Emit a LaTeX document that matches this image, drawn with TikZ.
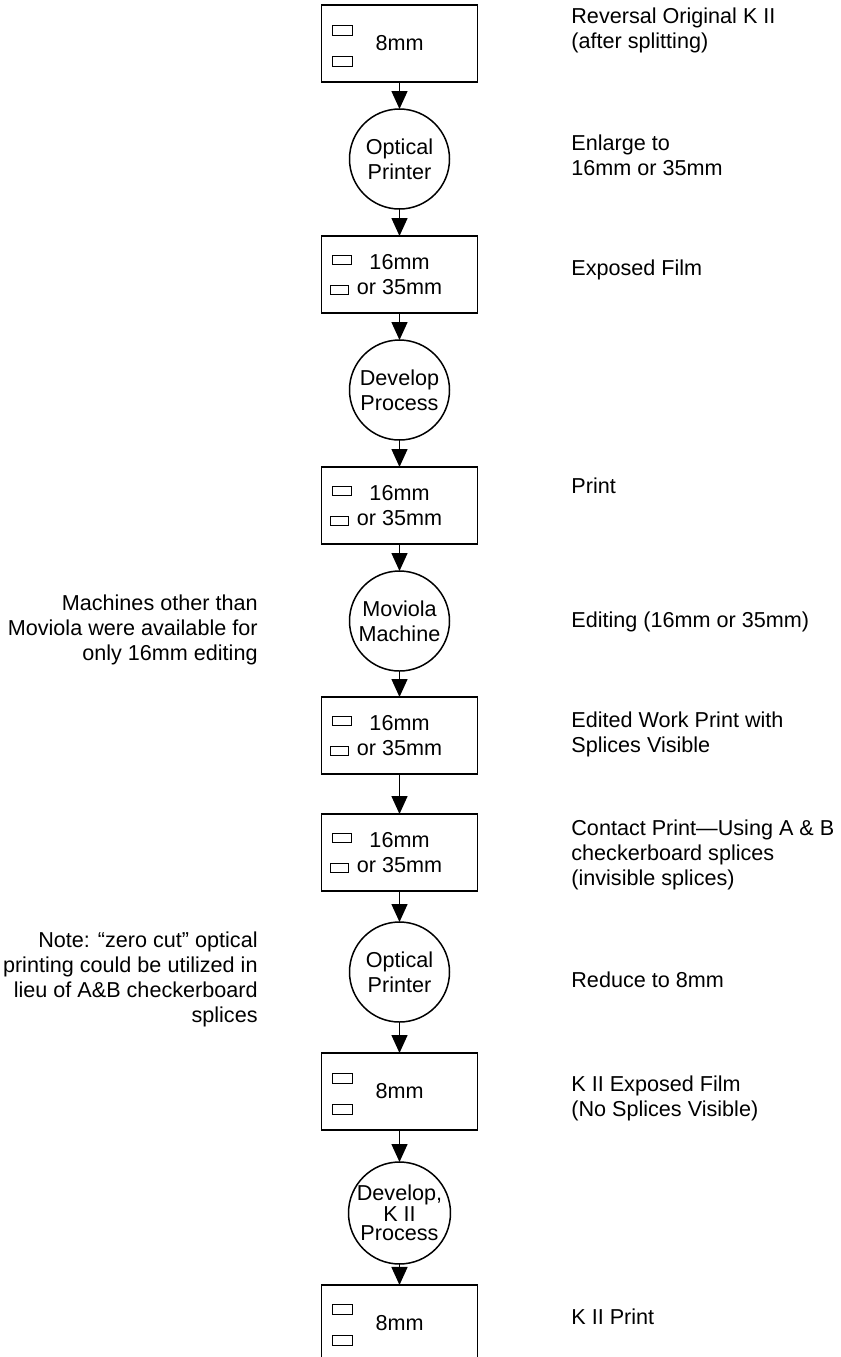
\documentclass[tikz,border=0pt]{standalone}
\usepackage{fontspec}
\setmainfont{Liberation Sans}
\usetikzlibrary{arrows.meta,positioning,calc}

\begin{document}
\begin{tikzpicture}[
    x=0.5pt, y=-0.5pt,
    font=\fontsize{10.8}{12.5}\selectfont,
    filmbox/.style={draw, line width=0.75pt, minimum width=78pt, minimum height=38.5pt, inner sep=0pt, outer sep=0pt, align=center},
    process/.style={draw, circle, line width=0.75pt, minimum size=50pt, inner sep=0pt, outer sep=0pt, align=center},
    hole/.style={draw, line width=0.5pt},
    remark/.style={anchor=west, align=left, inner sep=0pt},
    aside/.style={anchor=east, align=right, inner sep=0pt},
    arrow/.style={-{Triangle[length=9pt,width=8pt]}, line width=0.75pt}
  ]
    \useasboundingbox (0,0) rectangle (841,1357);
    % main chain
    \node[filmbox] (reel1) at (399.5,43.5) {8mm};
    \node[process, below=13.5pt of reel1] (optic1) {Optical\\Printer};
    \node[filmbox, below=13.5pt of optic1] (reel2) {16mm\\or 35mm};
    \node[process, below=13.5pt of reel2] (dev1) {Develop\\Process};
    \node[filmbox, below=13.5pt of dev1] (reel3) {16mm\\or 35mm};
    \node[process, below=13.5pt of reel3] (moviola) {Moviola\\Machine};
    \node[filmbox, below=13pt of moviola] (reel4) {16mm\\or 35mm};
    \node[filmbox, below=20pt of reel4] (reel5) {16mm\\or 35mm};
    \node[process, below=15.5pt of reel5] (optic2) {Optical\\Printer};
    \node[filmbox, below=15.5pt of optic2] (reel6) {8mm};
    \node[process, below=16pt of reel6, font=\fontsize{10.8}{9.5}\selectfont] (dev2) {Develop,\\K II\\Process};
    \node[filmbox, draw=none, below=10.5pt of dev2] (reel7) {8mm};
    \coordinate (pagebottom) at (399.5,1357);
    \draw[line width=0.75pt] (reel7.north west |- pagebottom) -- (reel7.north west) -- (reel7.north east) -- (reel7.north east |- pagebottom);

    % perforations
    \foreach \r in {reel1,reel6,reel7}{
      \draw[hole] ($(\r.north west)+(11,20)$) rectangle ++(20,10);
      \draw[hole] ($(\r.north west)+(11,51)$) rectangle ++(20,10);
    }
    \foreach \r in {reel2,reel3,reel4,reel5}{
      \draw[hole] ($(\r.north west)+(11,19)$) rectangle ++(19,9);
      \draw[hole] ($(\r.north west)+(9,49)$) rectangle ++(18,9);
    }

    \foreach \a/\b in {reel1/optic1,optic1/reel2,reel2/dev1,dev1/reel3,reel3/moviola,moviola/reel4,reel4/reel5,reel5/optic2,optic2/reel6,reel6/dev2,dev2/reel7}
      \draw[arrow] (\a) -- (\b);

    % descriptions
    \node[remark] (t1) at (571,30) {Reversal Original K II\\(after splitting)};
    \node[remark] (t2) at (571,155.5) {Enlarge to\\16mm or 35mm};
    \node[remark] (t3) at (571,270) {Exposed Film};
    \node[remark] (t4) at (571,486) {Print};
    \node[remark] (t5) at (571,622) {Editing (16mm or 35mm)};
    \node[remark] (t6) at (571,734.5) {Edited Work Print with\\Splices Visible};
    \node[remark] (t7) at (571,855) {Contact Print—Using A \& B\\checkerboard splices\\(invisible splices)};
    \node[remark] (t8) at (571,980) {Reduce to 8mm};
    \node[remark] (t9) at (571,1098) {K II Exposed Film\\(No Splices Visible)};
    \node[remark] (t10) at (571,1317) {K II Print};

    \node[aside] (n1) at (258,630) {Machines other than\\Moviola were available for\\only 16mm editing};
    \node[aside] (n2) at (258,979.5) {Note: “zero cut” optical\\printing could be utilized in\\lieu of A\&B checkerboard\\splices};
  \end{tikzpicture}
\end{document}
